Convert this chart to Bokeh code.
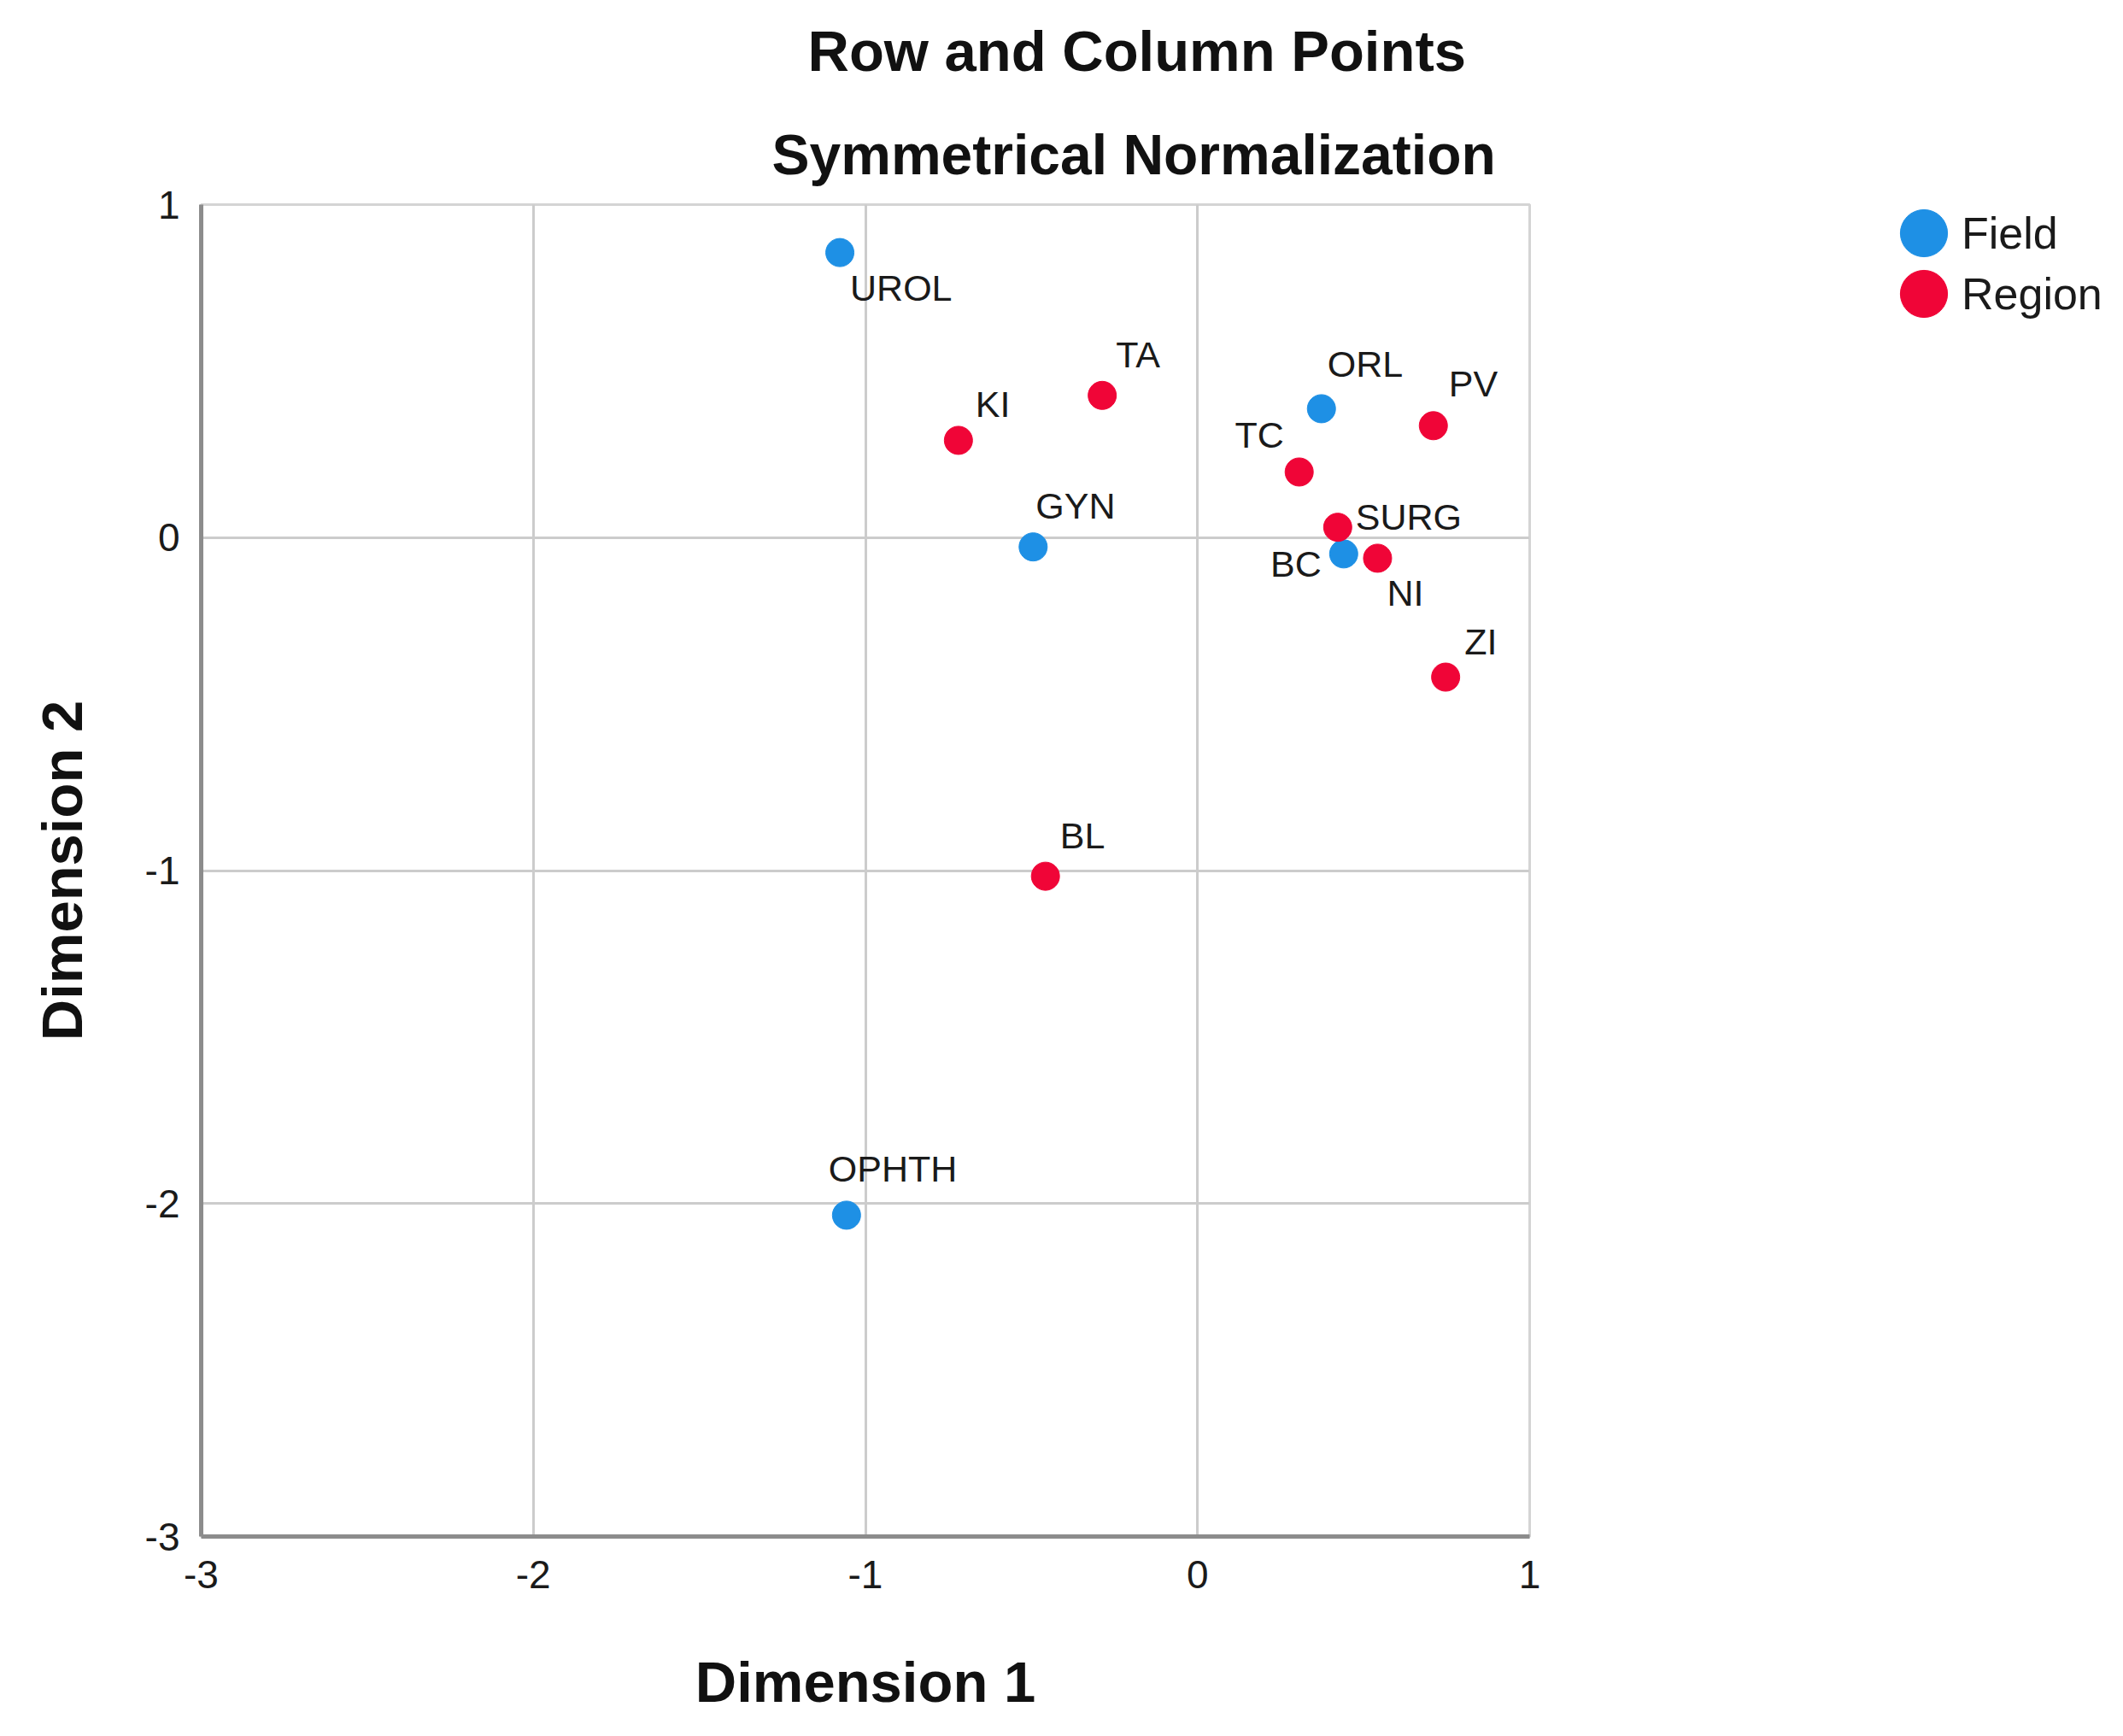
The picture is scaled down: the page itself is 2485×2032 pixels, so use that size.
from bokeh.plotting import figure
from bokeh.models import Range1d, FixedTicker, Legend, LegendItem, ColumnDataSource, Title
from bokeh.core.properties import value
from bokeh.embed import file_html
from bokeh.resources import INLINE

# ---- data ----
field_names = ["UROL", "GYN", "ORL", "BC", "OPHTH"]
field_dim1 = [-1.077, -0.495, 0.373, 0.440, -1.057]
field_dim2 = [0.856, -0.028, 0.387, -0.049, -2.035]

region_names = ["KI", "TA", "PV", "TC", "SURG", "NI", "ZI", "BL"]
region_dim1 = [-0.720, -0.287, 0.710, 0.306, 0.422, 0.542, 0.747, -0.458]
region_dim2 = [0.292, 0.427, 0.336, 0.197, 0.031, -0.062, -0.419, -1.017]

tick_values = [-3, -2, -1, 0, 1]
tick_labels = {-3: "-3", -2: "-2", -1: "-1", 0: "0", 1: "1"}

title_text = "Row and Column Points"
subtitle_text = "Symmetrical Normalization"
x_label = "Dimension 1"
y_label = "Dimension 2"
series_labels = ["Field", "Region"]

# ---- styles ----
FONT = "Liberation Sans"
BLUE = "#1e90e5"
RED = "#f00537"
# (align, x offset px, y offset px) for each point label
label_style = {
    "UROL": ("left", 12, 41),
    "GYN": ("left", 3, -48),
    "ORL": ("left", 7, -52),
    "BC": ("right", -26, 12),
    "OPHTH": ("left", -21, -54),
    "KI": ("left", 20, -42),
    "TA": ("left", 16, -48),
    "PV": ("left", 18, -49),
    "TC": ("right", -18, -43),
    "SURG": ("left", 21, -12),
    "NI": ("left", 11, 41),
    "ZI": ("left", 22, -42),
    "BL": ("left", 17, -48),
}

W, H = 2465, 2028
FR_RIGHT, FR_BOTTOM = 1791, 1798
ML, MT = 235, 238
MR = W - FR_RIGHT
MB = H - FR_BOTTOM

p = figure(width=W, height=H, output_backend="svg", toolbar_location=None,
           x_range=Range1d(-3, 1), y_range=Range1d(-3, 1),
           min_border_left=ML, min_border_right=MR, min_border_top=MT, min_border_bottom=MB,
           title=title_text)
p.background_fill_color = "white"
p.border_fill_color = "white"
p.outline_line_color = "#d4d4d4"
p.outline_line_width = 3

# titles: p.title is outermost, the added subtitle sits next to the frame
p.title.align = "left"
p.title.offset = 710
p.title.standoff = 42
p.title.vertical_align = "top"
p.title.text_font = FONT
p.title.text_font_size = "67px"
p.title.text_font_style = "bold"
p.title.text_color = "#111111"
p.add_layout(Title(text=subtitle_text, align="left", offset=668, standoff=44,
                   vertical_align="bottom", text_font=FONT, text_font_size="66px",
                   text_font_style="bold", text_color="#111111"), "above")

ticker = FixedTicker(ticks=tick_values)
for ax in (p.xaxis[0], p.yaxis[0]):
    ax.ticker = ticker
    ax.major_label_overrides = tick_labels
    ax.major_tick_line_color = None
    ax.minor_tick_line_color = None
    ax.major_tick_out = 0
    ax.major_tick_in = 0
    ax.axis_line_color = "#8c8c8c"
    ax.axis_line_width = 5
    ax.major_label_text_font = FONT
    ax.major_label_text_font_size = "46px"
    ax.major_label_text_color = "#1a1a1a"
    ax.axis_label_text_font = FONT
    ax.axis_label_text_font_size = "67px"
    ax.axis_label_text_font_style = "bold"
    ax.axis_label_text_color = "#111111"
p.xaxis[0].axis_label = x_label
p.yaxis[0].axis_label = y_label
p.xaxis[0].major_label_standoff = 28
p.yaxis[0].major_label_standoff = 25
p.xaxis[0].axis_label_standoff = 69
p.yaxis[0].axis_label_standoff = 57

for g in p.grid:
    g.ticker = ticker
    g.grid_line_color = "#cccccc"
    g.grid_line_width = 3

src_field = ColumnDataSource(dict(x=field_dim1, y=field_dim2, name=field_names))
src_region = ColumnDataSource(dict(x=region_dim1, y=region_dim2, name=region_names))

MARK = 33
rf = p.ellipse("x", "y", source=src_field, width=MARK, height=MARK,
               width_units="screen", height_units="screen",
               fill_color=BLUE, line_color=BLUE)
rr = p.ellipse("x", "y", source=src_region, width=MARK, height=MARK,
               width_units="screen", height_units="screen",
               fill_color=RED, line_color=RED)

# point labels
for align in ("left", "right"):
    d = dict(x=[], y=[], name=[], xo=[], yo=[])
    for names, xs, ys in ((field_names, field_dim1, field_dim2),
                          (region_names, region_dim1, region_dim2)):
        for n, xv, yv in zip(names, xs, ys):
            a, xo, yo = label_style[n]
            if a == align:
                d["x"].append(xv); d["y"].append(yv); d["name"].append(n)
                d["xo"].append(xo); d["yo"].append(yo)
    p.text("x", "y", text="name", source=ColumnDataSource(d),
           x_offset="xo", y_offset="yo", text_align=align, text_baseline="middle",
           text_font=value(FONT), text_font_size="43px", text_color="#1a1a1a")

legend = Legend(items=[LegendItem(label=series_labels[0], renderers=[rf]),
                       LegendItem(label=series_labels[1], renderers=[rr])],
                location=(427, 1420), glyph_width=69, glyph_height=69,
                spacing=2, label_standoff=10, padding=0, margin=0,
                border_line_color=None, background_fill_alpha=0,
                label_text_font=FONT, label_text_font_size="52px",
                label_text_color="#1a1a1a")
p.add_layout(legend, "right")

open("out.html", "w").write(file_html(p, INLINE))
